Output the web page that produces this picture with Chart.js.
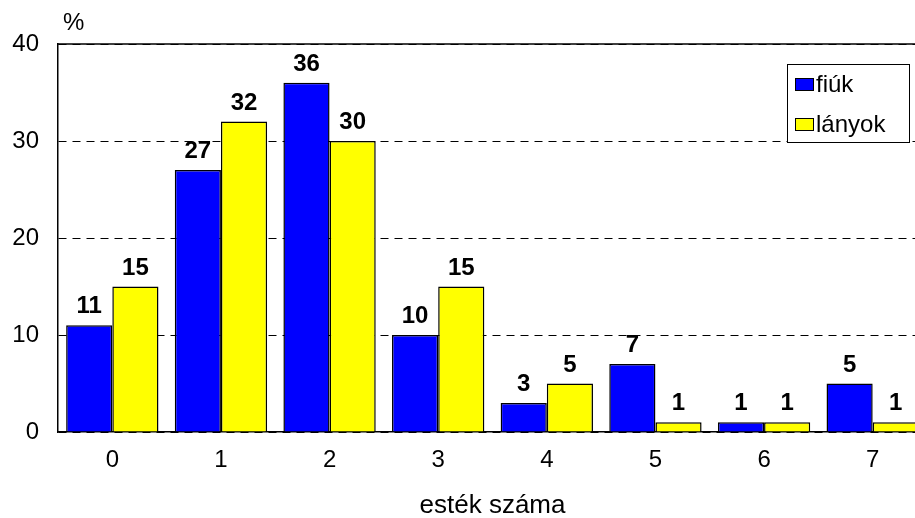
<!DOCTYPE html>
<html>
<head>
<meta charset="utf-8">
<style>
  html, body { margin: 0; padding: 0; background: #fff; overflow: hidden; }
  #wrap { width: 940px; height: 521px; }
</style>
<script src="https://cdn.jsdelivr.net/npm/chart.js@4/dist/chart.umd.min.js"></script>
</head>
<body>
<div id="wrap"><canvas id="c" width="940" height="521"></canvas></div>
<script>
// Number of evenings (esték száma) and share of boys / girls in %
const categories = ['0', '1', '2', '3', '4', '5', '6', '7'];
const fiuk = [11, 27, 36, 10, 3, 7, 1, 5];
const lanyok = [15, 32, 30, 15, 5, 1, 1, 1];
const yTicks = [0, 10, 20, 30, 40];

const FONT = "'Liberation Sans', Arial, sans-serif";

// value labels above each bar
const valueLabels = {
  id: 'valueLabels',
  afterDatasetsDraw(chart) {
    const ctx = chart.ctx;
    ctx.save();
    ctx.font = 'bold 24px ' + FONT;
    ctx.fillStyle = '#000';
    ctx.textAlign = 'center';
    ctx.textBaseline = 'alphabetic';
    chart.data.datasets.forEach((ds, i) => {
      chart.getDatasetMeta(i).data.forEach((bar, j) => {
        ctx.fillText(String(ds.data[j]), bar.x, bar.y - 12);
      });
    });
    ctx.restore();
  }
};

// unit label, solid top border and the boxed legend inside the plot
const decorations = {
  id: 'decorations',
  afterDraw(chart) {
    const ctx = chart.ctx;
    const a = chart.chartArea;
    ctx.save();
    // top border of the plot area
    ctx.strokeStyle = '#000';
    ctx.lineWidth = 1.5;
    ctx.beginPath();
    ctx.moveTo(a.left, a.top);
    ctx.lineTo(a.right, a.top);
    ctx.stroke();
    // unit
    ctx.font = '24px ' + FONT;
    ctx.fillStyle = '#000';
    ctx.textAlign = 'left';
    ctx.textBaseline = 'alphabetic';
    ctx.fillText('%', a.left + 5, 30);
    // legend
    const bx = 787, by = 64, bw = 122, bh = 78;
    ctx.fillStyle = '#fff';
    ctx.fillRect(bx, by, bw, bh);
    ctx.strokeStyle = '#000';
    ctx.lineWidth = 1;
    ctx.strokeRect(bx + 0.5, by + 0.5, bw, bh);
    ctx.textBaseline = 'middle';
    chart.data.datasets.forEach((ds, i) => {
      const cy = 84 + i * 40;
      ctx.fillStyle = ds.backgroundColor;
      ctx.fillRect(795, cy - 6, 19, 13);
      ctx.strokeStyle = '#000';
      ctx.strokeRect(795.5, cy - 5.5, 18, 12);
      ctx.fillStyle = '#000';
      ctx.fillText(ds.label, 816, cy + 1);
    });
    ctx.restore();
  }
};

new Chart(document.getElementById('c'), {
  type: 'bar',
  data: {
    labels: categories,
    datasets: [
      { label: 'fiúk', data: fiuk, backgroundColor: '#0000ff', borderColor: '#000', borderWidth: 1.5 },
      { label: 'lányok', data: lanyok, backgroundColor: '#ffff00', borderColor: '#000', borderWidth: 1.5 }
    ]
  },
  options: {
    responsive: false,
    animation: false,
    layout: { padding: { top: 44, right: 13, left: 0, bottom: 0 } },
    datasets: { bar: { categoryPercentage: 0.85, barPercentage: 1.0 } },
    plugins: { legend: { display: false }, tooltip: { enabled: false } },
    scales: {
      x: {
        afterFit(scale) { scale.height = 89; },
        grid: { display: false, drawTicks: false },
        border: { display: true, color: '#000', width: 1.5 },
        ticks: { color: '#000', font: { family: FONT, size: 24 }, padding: 14 },
        title: { display: true, text: 'esték száma', color: '#000', font: { family: FONT, size: 26 }, padding: { top: 0, bottom: 0 } }
      },
      y: {
        min: 0, max: 40,
        afterBuildTicks(scale) { scale.ticks = yTicks.map(v => ({ value: v })); },
        afterFit(scale) { scale.width = 58; },
        grid: { color: '#000', lineWidth: 1, drawTicks: false },
        border: { display: true, color: '#000', width: 1.5, dash: [8, 6] },
        ticks: { color: '#000', font: { family: FONT, size: 24 }, padding: 19 }
      }
    }
  },
  plugins: [valueLabels, decorations]
});
</script>
</body>
</html>
